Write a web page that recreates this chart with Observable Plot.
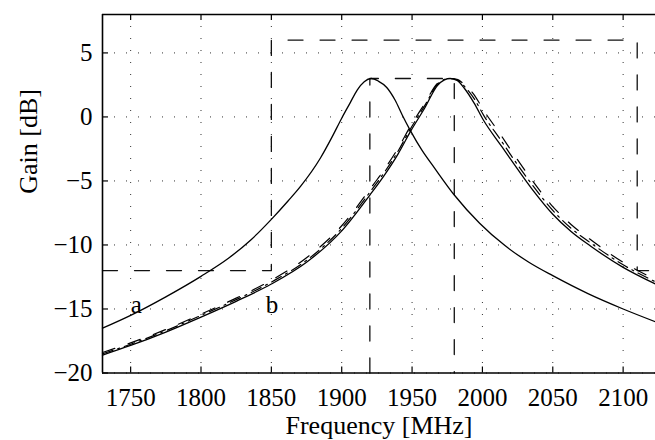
<!DOCTYPE html>
<html>
<head>
<meta charset="utf-8">
<script src="https://cdn.jsdelivr.net/npm/d3@7"></script>
<script src="https://cdn.jsdelivr.net/npm/@observablehq/plot@0.6"></script>
<style>
  html, body { margin: 0; padding: 0; background: #fff; }
</style>
</head>
<body>
<div id="chart"></div>
<script>
// ---- data ----
const xTicks = [1750, 1800, 1850, 1900, 1950, 2000, 2050, 2100];
const yTicks = [-20, -15, -10, -5, 0, 5];
const xDomain = [1730, 2123];
const yDomain = [-20, 8];

// curve a (solid, centred near 1920 MHz)
const aFreq = [1730,1750,1775,1800,1820,1835,1850,1862,1871,1885,1893,1900,1906,1911,1916,1921,1926,1932,1938,1943,1949,1957,1966,1980,1998,2016,2033,2050,2075,2100,2123];
const aGain = [-16.5,-15.5,-14.05,-12.45,-11.0,-9.65,-8.0,-6.55,-5.39,-3.19,-1.6,-0.1,1.1,2.1,2.75,3.0,2.8,2.3,1.3,0.15,-1.11,-2.6,-4.0,-6.1,-8.3,-10.05,-11.35,-12.4,-13.8,-15.0,-16.0];

// curves near 1978 MHz: b (solid), dashed, dash-dot
const bFreq = [1730,1750,1775,1800,1825,1850,1875,1900,1920,1930,1940,1949,1959,1968,1973,1977,1982,1987,1994,2001,2013,2020,2035,2050,2063,2077,2100,2123];
const bGain = [-18.6,-17.85,-16.8,-15.63,-14.4,-13.05,-11.35,-8.9,-6.1,-4.6,-2.9,-1.11,0.7,2.45,2.9,3.0,2.85,2.26,1.1,-0.3,-2.2,-3.3,-5.6,-7.6,-8.95,-10.1,-11.75,-13.05];
const cGain = [-18.4,-17.65,-16.6,-15.4,-14.15,-12.75,-11.0,-8.5,-5.65,-4.15,-2.45,-0.7,1.05,2.62,2.95,3.0,2.93,2.55,1.75,0.5,-1.4,-2.55,-4.9,-7.0,-8.4,-9.6,-11.35,-12.7];
const dGain = [-18.5,-17.75,-16.7,-15.5,-14.27,-12.9,-11.2,-8.7,-5.88,-4.38,-2.68,-0.9,0.88,2.54,2.93,3.0,2.9,2.42,1.45,0.1,-1.8,-2.95,-5.25,-7.3,-8.7,-9.85,-11.55,-12.88];

// spectral masks
const mask1Freq = [1730, 1850, 1850, 2110, 2110, 2123];
const mask1Gain = [-12, -12, 6, 6, -12, -12];
const mask2Freq = [1920, 1920, 1980, 1980];
const mask2Gain = [-20, 3, 3, -20];

// curve labels
const labelFreq = [1750, 1846];
const labelGain = [-15.3, -15.3];
const labelText = ["a", "b"];

// ---- layout ----
const W = 655, H = 440;
const mL = 102, mR = 0, mT = 14, mB = 67.5;
const innerW = W - mL - mR, innerH = H - mT - mB;
const tickLen = 6;
const font = "'Liberation Serif', 'Times New Roman', serif";

const table = (freq, gain) => freq.map((f, i) => ({f, g: gain[i]}));
const A = table(aFreq, aGain);
const B = table(bFreq, bGain);
const C = table(bFreq, cGain);
const D = table(bFreq, dGain);
const M1 = table(mask1Freq, mask1Gain);
const M2 = table(mask2Freq, mask2Gain);
const L = labelFreq.map((f, i) => ({f, g: labelGain[i], t: labelText[i]}));

const gridStyle = {stroke: "#333", strokeWidth: 1, strokeDasharray: "1,11"};
const maskStyle = {x: "f", y: "g", stroke: "#111", strokeWidth: 1.3, strokeDasharray: "15,17"};

const chart = Plot.plot({
  width: W, height: H,
  marginLeft: mL, marginRight: mR, marginTop: mT, marginBottom: mB,
  style: {fontFamily: font, fontSize: "25px", background: "#fff", color: "#000", overflow: "visible"},
  x: {domain: xDomain, ticks: xTicks},
  y: {domain: yDomain, ticks: yTicks},
  marks: [
    Plot.ruleX(xTicks, {x: d => d, ...gridStyle}),
    Plot.ruleY(yTicks, {y: d => d, ...gridStyle}),
    Plot.line(M1, maskStyle),
    Plot.line(M2, maskStyle),
    Plot.line(A, {x: "f", y: "g", stroke: "#000", strokeWidth: 1.3, curve: "monotone-x"}),
    Plot.line(B, {x: "f", y: "g", stroke: "#000", strokeWidth: 1.3, curve: "monotone-x"}),
    Plot.line(C, {x: "f", y: "g", stroke: "#000", strokeWidth: 1.2, strokeDasharray: "13,14", curve: "monotone-x"}),
    Plot.line(D, {x: "f", y: "g", stroke: "#000", strokeWidth: 1.2, strokeDasharray: "11,5,2,5", curve: "monotone-x"}),
    Plot.text(L, {x: "f", y: "g", text: "t", textAnchor: "start", lineAnchor: "bottom", fontSize: 25, fill: "#000"}),
    // frame (left, top, bottom)
    Plot.ruleY(yDomain, {y: d => d, stroke: "#000", strokeWidth: 1.6}),
    Plot.ruleX([xDomain[0]], {x: d => d, stroke: "#000", strokeWidth: 1.6}),
    // inward ticks
    Plot.tickX(xTicks, {x: d => d, insetTop: innerH - tickLen, stroke: "#000", strokeWidth: 1.2}),
    Plot.tickX(xTicks, {x: d => d, insetBottom: innerH - tickLen, stroke: "#000", strokeWidth: 1.2}),
    Plot.tickY(yTicks, {y: d => d, insetRight: innerW - tickLen, stroke: "#000", strokeWidth: 1.2}),
    // tick labels
    Plot.axisX(xTicks, {anchor: "bottom", tickSize: 0, tickPadding: 15, tickFormat: d => String(d), fontSize: 25, label: null}),
    Plot.axisY(yTicks, {anchor: "left", tickSize: 0, tickPadding: 10, tickFormat: d => (d < 0 ? "\u2212" + Math.abs(d) : String(d)), fontSize: 25, label: null}),
    // axis titles
    Plot.text(["Frequency [MHz]"], {frameAnchor: "bottom", lineAnchor: "bottom", dy: 60.5, fontSize: 26, fill: "#000"}),
    Plot.text(["Gain [dB]"], {frameAnchor: "left", lineAnchor: "bottom", rotate: -90, dx: -66, fontSize: 26, fill: "#000"})
  ]
});
document.getElementById("chart").appendChild(chart);
</script>
</body>
</html>
